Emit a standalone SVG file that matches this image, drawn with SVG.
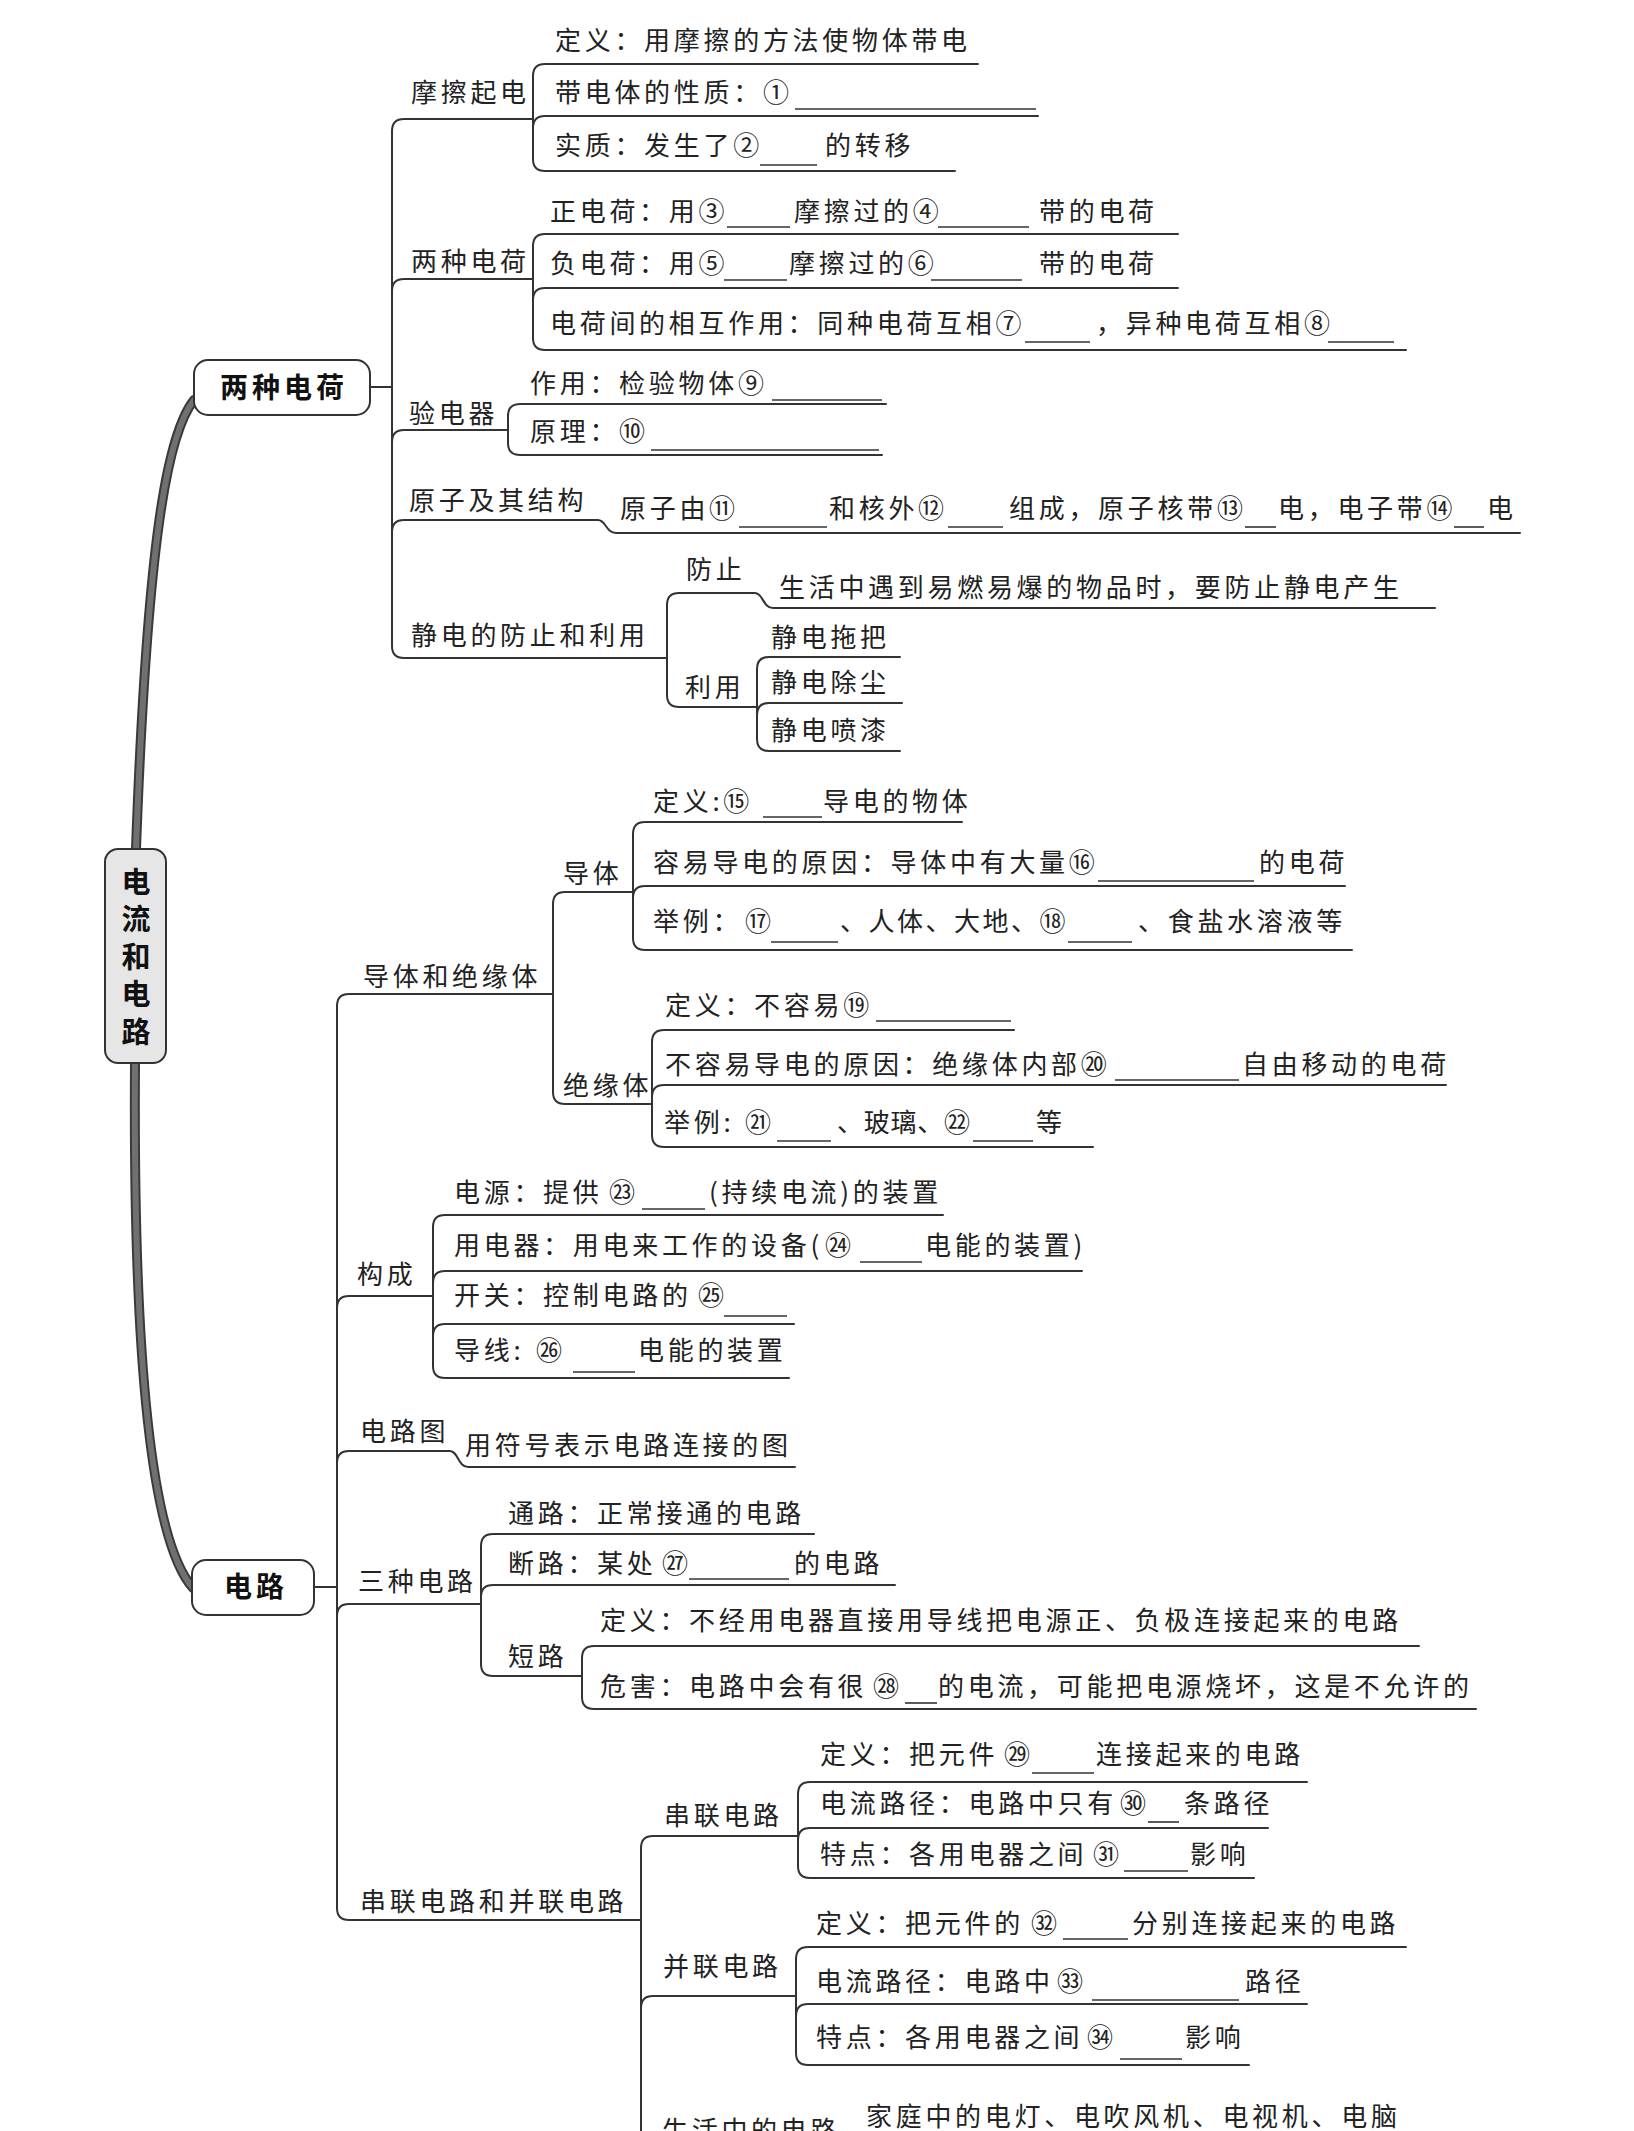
<svg xmlns="http://www.w3.org/2000/svg" width="1634" height="2131" viewBox="0 0 1634 2131">
<style>
.t{font-family:"Noto Sans CJK SC","Noto Sans",sans-serif;font-size:26px;letter-spacing:3.7px;fill:#222}
.bt{font-family:"Noto Sans CJK SC","Noto Sans",sans-serif;font-size:28px;font-weight:bold;letter-spacing:4px;fill:#111;text-anchor:middle}
.vt{font-family:"Noto Sans CJK SC","Noto Sans",sans-serif;font-size:29px;font-weight:bold;letter-spacing:8.5px;fill:#111;writing-mode:vertical-rl}
.ln{fill:none;stroke:#333;stroke-width:2;stroke-linecap:round}
.bl{stroke:#333;stroke-width:1.6}
.box{fill:#fff;stroke:#333;stroke-width:2}
.thk{fill:none;stroke:#3a3a3a;stroke-width:10;stroke-linecap:round}
.thi{fill:none;stroke:#707070;stroke-width:6;stroke-linecap:round}
</style>
<rect width="1634" height="2131" fill="#fff"/>
<g id="connectors">
<path class="thk" d="M194 400 C170 430 148 520 136 849"/>
<path class="thi" d="M194 400 C170 430 148 520 136 849"/>
<path class="thk" d="M135 1063 C133 1350 150 1540 193 1588"/>
<path class="thi" d="M135 1063 C133 1350 150 1540 193 1588"/>
<path class="ln" d="M370 387 H392 M392 131 V646 M533 76 V159 M533 246 V338 M508 416 V443 M667 605 V695 M757 669 V739"/>
<path class="ln" d="M313 1587 H337 M337 1006 V1908 M553 904 V1092 M633 834 V938 M652 1042 V1135 M433 1227 V1366 M481 1546 V1664 M582 1658 V1697 M641 1848 V2140 M798 1794 V1866 M796 1959 V2053"/>
</g>
<g id="root">
<rect x="105" y="849" width="61" height="214" rx="13" fill="#e6e6e6" stroke="#333" stroke-width="2"/>
<text class="vt" x="136" y="867">电流和电路</text>
</g>
<g id="n-liangzhongdianhe">
<rect class="box" x="194" y="360" width="176" height="55" rx="14"/>
<text class="bt" x="284" y="398">两种电荷</text>
</g>
<g id="n-dianlu">
<rect class="box" x="192" y="1560" width="122" height="55" rx="14"/>
<text class="bt" x="256" y="1597">电路</text>
</g>
<g id="n-mocaqidian">
<path class="ln" d="M392 131 Q392 119 404 119 H533"/>
<text class="t" x="411" y="102">摩擦起电</text>
</g>
<g id="n-mc1"><path class="ln" d="M533 76 Q533 64 545 64 H978"/><text class="t" x="555" y="50">定义：用摩擦的方法使物体带电</text></g>
<g id="n-mc2"><path class="ln" d="M533 128 Q533 116 545 116 H1038"/><text class="t" x="555" y="102">带电体的性质：①</text><line class="bl" x1="795" y1="109" x2="1036" y2="109"/></g>
<g id="n-mc3"><path class="ln" d="M533 159 Q533 171 545 171 H955"/><text class="t" y="155"><tspan x="555">实质：发生了②</tspan><tspan x="825">的转移</tspan></text><line class="bl" x1="760" y1="165" x2="817" y2="165"/></g>
<g id="n-lzdh2">
<path class="ln" d="M392 291 Q392 279 404 279 H533"/>
<text class="t" x="411" y="271">两种电荷</text>
</g>
<g id="n-lz1"><path class="ln" d="M533 246 Q533 234 545 234 H1178"/><text class="t" y="221"><tspan x="550">正电荷：用③</tspan><tspan x="794">摩擦过的④</tspan><tspan x="1039">带的电荷</tspan></text><line class="bl" x1="727" y1="227" x2="790" y2="227"/><line class="bl" x1="938" y1="227" x2="1029" y2="227"/></g>
<g id="n-lz2"><path class="ln" d="M533 300 Q533 288 545 288 H1178"/><text class="t" y="273"><tspan x="550">负电荷：用⑤</tspan><tspan x="789">摩擦过的⑥</tspan><tspan x="1039">带的电荷</tspan></text><line class="bl" x1="724" y1="280" x2="787" y2="280"/><line class="bl" x1="931" y1="280" x2="1022" y2="280"/></g>
<g id="n-lz3"><path class="ln" d="M533 338 Q533 350 545 350 H1406"/><text class="t" y="333"><tspan x="550">电荷间的相互作用：同种电荷互相⑦</tspan><tspan x="1096">，异种电荷互相⑧</tspan></text><line class="bl" x1="1025" y1="342" x2="1090" y2="342"/><line class="bl" x1="1328" y1="342" x2="1394" y2="342"/></g>
<g id="n-yandianqi">
<path class="ln" d="M392 442 Q392 430 404 430 H508"/>
<text class="t" x="409" y="423">验电器</text>
</g>
<g id="n-yd1"><path class="ln" d="M508 416 Q508 404 520 404 H886"/><text class="t" x="530" y="393">作用：检验物体⑨</text><line class="bl" x1="772" y1="400" x2="882" y2="400"/></g>
<g id="n-yd2"><path class="ln" d="M508 443 Q508 455 520 455 H882"/><text class="t" x="530" y="441">原理：⑩</text><line class="bl" x1="651" y1="450" x2="879" y2="450"/></g>
<g id="n-yuanzi">
<path class="ln" d="M392 532 Q392 520 404 520 H598 C606 520 606 533 616 533 H1520"/>
<text class="t" x="409" y="510">原子及其结构</text>
<text class="t" y="518"><tspan x="620">原子由⑪</tspan><tspan x="829">和核外⑫</tspan><tspan x="1009">组成，原子核带⑬</tspan><tspan x="1278">电，电子带⑭</tspan><tspan x="1487">电</tspan></text>
<line class="bl" x1="739" y1="527" x2="827" y2="527"/><line class="bl" x1="948" y1="527" x2="1003" y2="527"/><line class="bl" x1="1245" y1="527" x2="1276" y2="527"/><line class="bl" x1="1454" y1="527" x2="1484" y2="527"/>
</g>
<g id="n-jingdian">
<path class="ln" d="M392 646 Q392 658 404 658 H667"/>
<text class="t" x="411" y="645">静电的防止和利用</text>
</g>
<g id="n-fangzhi"><path class="ln" d="M667 605 Q667 593 679 593 H755 C763 593 763 608 773 608 H1435"/><text class="t" x="686" y="579">防止</text><text class="t" x="779" y="597">生活中遇到易燃易爆的物品时，要防止静电产生</text></g>
<g id="n-liyong"><path class="ln" d="M667 695 Q667 707 679 707 H757"/><text class="t" x="685" y="697">利用</text></g>
<g id="n-ly1"><path class="ln" d="M757 669 Q757 657 769 657 H900"/><text class="t" x="771" y="647">静电拖把</text></g>
<g id="n-ly2"><path class="ln" d="M757 715 Q757 703 769 703 H902"/><text class="t" x="771" y="692">静电除尘</text></g>
<g id="n-ly3"><path class="ln" d="M757 739 Q757 751 769 751 H900"/><text class="t" x="771" y="740">静电喷漆</text></g>
<g id="n-dtjyt"><path class="ln" d="M337 1006 Q337 994 349 994 H553"/><text class="t" x="363" y="986">导体和绝缘体</text></g>
<g id="n-daoti"><path class="ln" d="M553 904 Q553 892 565 892 H633"/><text class="t" x="563" y="883">导体</text></g>
<g id="n-dt1"><path class="ln" d="M633 834 Q633 822 645 822 H962"/><text class="t" y="811"><tspan x="653">定义:⑮</tspan><tspan x="823">导电的物体</tspan></text><line class="bl" x1="763" y1="817" x2="822" y2="817"/></g>
<g id="n-dt2"><path class="ln" d="M633 898 Q633 886 645 886 H1345"/><text class="t" y="872"><tspan x="653">容易导电的原因：导体中有大量⑯</tspan><tspan x="1259">的电荷</tspan></text><line class="bl" x1="1098" y1="881" x2="1254" y2="881"/></g>
<g id="n-dt3"><path class="ln" d="M633 938 Q633 950 645 950 H1352"/><text class="t" y="931"><tspan x="653">举例：</tspan><tspan x="745">⑰</tspan><tspan x="840" style="letter-spacing:2.5px">、人体、大地、⑱</tspan><tspan x="1138">、食盐水溶液等</tspan></text><line class="bl" x1="771" y1="942" x2="838" y2="942"/><line class="bl" x1="1068" y1="942" x2="1132" y2="942"/></g>
<g id="n-jueyuanti"><path class="ln" d="M553 1092 Q553 1104 565 1104 H652"/><text class="t" x="563" y="1095">绝缘体</text></g>
<g id="n-jy1"><path class="ln" d="M652 1042 Q652 1030 664 1030 H1014"/><text class="t" x="665" y="1015">定义：不容易⑲</text><line class="bl" x1="876" y1="1021" x2="1011" y2="1021"/></g>
<g id="n-jy2"><path class="ln" d="M652 1097 Q652 1085 664 1085 H1446"/><text class="t" y="1074"><tspan x="665">不容易导电的原因：绝缘体内部⑳</tspan><tspan x="1242">自由移动的电荷</tspan></text><line class="bl" x1="1115" y1="1080" x2="1239" y2="1080"/></g>
<g id="n-jy3"><path class="ln" d="M652 1135 Q652 1147 664 1147 H1093"/><text class="t" y="1132"><tspan x="664">举例:</tspan><tspan x="745">㉑</tspan><tspan x="837" style="letter-spacing:0.75px">、玻璃、㉒</tspan><tspan x="1036">等</tspan></text><line class="bl" x1="777" y1="1141" x2="831" y2="1141"/><line class="bl" x1="973" y1="1141" x2="1033" y2="1141"/></g>
<g id="n-goucheng"><path class="ln" d="M337 1308 Q337 1296 349 1296 H433"/><text class="t" x="357" y="1284">构成</text></g>
<g id="n-gc1"><path class="ln" d="M433 1227 Q433 1215 445 1215 H943"/><text class="t" y="1202"><tspan x="454">电源：提供</tspan><tspan x="609">㉓</tspan><tspan x="709">(持续电流)的装置</tspan></text><line class="bl" x1="642" y1="1209" x2="705" y2="1209"/></g>
<g id="n-gc2"><path class="ln" d="M433 1283 Q433 1271 445 1271 H1082"/><text class="t" y="1255"><tspan x="454">用电器：用电来工作的设备(</tspan><tspan x="825">㉔</tspan><tspan x="925">电能的装置)</tspan></text><line class="bl" x1="860" y1="1262" x2="922" y2="1262"/></g>
<g id="n-gc3"><path class="ln" d="M433 1336 Q433 1324 445 1324 H794"/><text class="t" y="1305"><tspan x="454">开关：控制电路的</tspan><tspan x="698">㉕</tspan></text><line class="bl" x1="724" y1="1316" x2="787" y2="1316"/></g>
<g id="n-gc4"><path class="ln" d="M433 1366 Q433 1378 445 1378 H789"/><text class="t" y="1360"><tspan x="454">导线:</tspan><tspan x="536">㉖</tspan><tspan x="638">电能的装置</tspan></text><line class="bl" x1="573" y1="1372" x2="635" y2="1372"/></g>
<g id="n-dianlutu"><path class="ln" d="M337 1463 Q337 1451 349 1451 H450 C458 1451 458 1467 468 1467 H795"/><text class="t" x="360" y="1441">电路图</text><text class="t" x="465" y="1455">用符号表示电路连接的图</text></g>
<g id="n-sanzhong"><path class="ln" d="M337 1616 Q337 1604 349 1604 H481"/><text class="t" x="358" y="1591">三种电路</text></g>
<g id="n-sz1"><path class="ln" d="M481 1546 Q481 1534 493 1534 H814"/><text class="t" x="508" y="1523">通路：正常接通的电路</text></g>
<g id="n-sz2"><path class="ln" d="M481 1597 Q481 1585 493 1585 H895"/><text class="t" y="1573"><tspan x="508">断路：某处</tspan><tspan x="662">㉗</tspan><tspan x="794">的电路</tspan></text><line class="bl" x1="689" y1="1579" x2="789" y2="1579"/></g>
<g id="n-duanlu"><path class="ln" d="M481 1664 Q481 1676 493 1676 H582"/><text class="t" x="508" y="1666">短路</text></g>
<g id="n-dl1"><path class="ln" d="M582 1658 Q582 1646 594 1646 H1419"/><text class="t" x="600" y="1630">定义：不经用电器直接用导线把电源正、负极连接起来的电路</text></g>
<g id="n-dl2"><path class="ln" d="M582 1697 Q582 1709 594 1709 H1476"/><text class="t" y="1696"><tspan x="600">危害：电路中会有很</tspan><tspan x="873">㉘</tspan><tspan x="938">的电流，可能把电源烧坏，这是不允许的</tspan></text><line class="bl" x1="905" y1="1703" x2="937" y2="1703"/></g>
<g id="n-clbl"><path class="ln" d="M337 1908 Q337 1920 349 1920 H641"/><text class="t" x="360" y="1911">串联电路和并联电路</text></g>
<g id="n-chuanlian"><path class="ln" d="M641 1848 Q641 1836 653 1836 H798"/><text class="t" x="664" y="1825">串联电路</text></g>
<g id="n-cl1"><path class="ln" d="M798 1794 Q798 1782 810 1782 H1307"/><text class="t" y="1764"><tspan x="820">定义：把元件</tspan><tspan x="1004">㉙</tspan><tspan x="1096">连接起来的电路</tspan></text><line class="bl" x1="1032" y1="1773" x2="1094" y2="1773"/></g>
<g id="n-cl2"><path class="ln" d="M798 1840 Q798 1828 810 1828 H1268"/><text class="t" y="1813"><tspan x="820">电流路径：电路中只有</tspan><tspan x="1120">㉚</tspan><tspan x="1184">条路径</tspan></text><line class="bl" x1="1148" y1="1822" x2="1179" y2="1822"/></g>
<g id="n-cl3"><path class="ln" d="M798 1866 Q798 1878 810 1878 H1254"/><text class="t" y="1864"><tspan x="820">特点：各用电器之间</tspan><tspan x="1093">㉛</tspan><tspan x="1190">影响</tspan></text><line class="bl" x1="1124" y1="1871" x2="1188" y2="1871"/></g>
<g id="n-binglian"><path class="ln" d="M641 2008 Q641 1996 653 1996 H796"/><text class="t" x="663" y="1976">并联电路</text></g>
<g id="n-bl1"><path class="ln" d="M796 1959 Q796 1947 808 1947 H1406"/><text class="t" y="1933"><tspan x="816">定义：把元件的</tspan><tspan x="1031">㉜</tspan><tspan x="1132">分别连接起来的电路</tspan></text><line class="bl" x1="1063" y1="1939" x2="1128" y2="1939"/></g>
<g id="n-bl2"><path class="ln" d="M796 2016 Q796 2004 808 2004 H1307"/><text class="t" y="1991"><tspan x="816">电流路径：电路中</tspan><tspan x="1057">㉝</tspan><tspan x="1245">路径</tspan></text><line class="bl" x1="1092" y1="2000" x2="1239" y2="2000"/></g>
<g id="n-bl3"><path class="ln" d="M796 2053 Q796 2065 808 2065 H1249"/><text class="t" y="2047"><tspan x="816">特点：各用电器之间</tspan><tspan x="1087">㉞</tspan><tspan x="1185">影响</tspan></text><line class="bl" x1="1120" y1="2059" x2="1182" y2="2059"/></g>
<g id="n-shenghuo"><text class="t" x="662" y="2140">生活中的电路</text></g>
<g id="n-jiating"><text class="t" x="866" y="2126">家庭中的电灯、电吹风机、电视机、电脑</text></g>
</svg>
